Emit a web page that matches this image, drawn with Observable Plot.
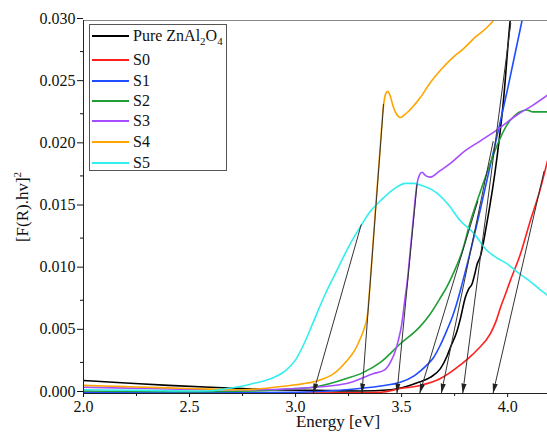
<!DOCTYPE html>
<html>
<head>
<meta charset="utf-8">
<script src="https://cdn.jsdelivr.net/npm/d3@7"></script>
<script src="https://cdn.jsdelivr.net/npm/@observablehq/plot@0.6"></script>
<style>
  html, body { margin: 0; padding: 0; background: #fff; }
  #wrap { position: relative; width: 547px; height: 432px; overflow: hidden; font-family: "Liberation Serif", "DejaVu Serif", serif; color: #111; }
  #legend { position: absolute; left: 89px; top: 24px; width: 138px; height: 147px; border: 1px solid #555; background: #fff; box-sizing: border-box; }
  .row { position: absolute; left: 0; height: 20px; display: flex; align-items: center; font-size: 16px; white-space: nowrap; }
  .sw { width: 37px; height: 2px; margin-left: 2px; margin-right: 4px; }
  .row sub { font-size: 11px; vertical-align: -4px; line-height: 0; }
  #ylab { position: absolute; left: 23px; top: 207px; transform: translate(-50%, -50%) rotate(-90deg); font-size: 17px; white-space: nowrap; }
  #ylab sup { font-size: 11px; vertical-align: 7px; line-height: 0; }
  #xlab { position: absolute; left: 338px; top: 413px; transform: translateX(-50%); font-size: 17px; line-height: 17px; white-space: nowrap; }
</style>
</head>
<body>
<div id="wrap"></div>
<script>
// ---- data ----
const seriesNames = ["Pure ZnAl2O4", "S0", "S1", "S2", "S3", "S4", "S5"];
const seriesColors = ["#000000", "#ff1f1f", "#1f4dff", "#1f9e35", "#a64dff", "#ffa500", "#33eeee"];

const pureE = [2.0, 2.2, 2.4, 2.6, 2.75, 2.9, 3.1, 3.3, 3.45, 3.53, 3.58, 3.635, 3.683, 3.714, 3.73, 3.761, 3.777, 3.80, 3.816, 3.832, 3.845, 3.856, 3.871, 3.90, 3.95, 3.98, 4.012, 4.03];
const pureV = [0.00105, 0.00085, 0.00065, 0.0005, 0.0004, 0.0003, 0.00025, 0.0002, 0.0003, 0.0006, 0.0009, 0.0013, 0.0020, 0.0030, 0.0037, 0.0050, 0.0060, 0.0077, 0.0084, 0.0088, 0.0096, 0.0104, 0.0110, 0.0135, 0.0190, 0.0235, 0.0300, 0.0325];

const s0E = [2.0, 2.4, 2.8, 3.2, 3.4, 3.494, 3.588, 3.683, 3.73, 3.777, 3.82, 3.856, 3.918, 3.945, 3.966, 3.99, 4.013, 4.06, 4.107, 4.15, 4.188];
const s0V = [0.0001, 0.00005, 0.00003, 0.00005, 0.0001, 0.0004, 0.00065, 0.0012, 0.0017, 0.0023, 0.0029, 0.0035, 0.0048, 0.0058, 0.0069, 0.0080, 0.0091, 0.0112, 0.0139, 0.0162, 0.0187];

const s1E = [2.0, 2.5, 3.0, 3.24, 3.40, 3.494, 3.557, 3.588, 3.62, 3.651, 3.68, 3.714, 3.74, 3.761, 3.785, 3.808, 3.863, 3.903, 3.95, 4.0, 4.068, 4.09];
const s1V = [0.0001, 0.00005, 0.0001, 0.0003, 0.0006, 0.0009, 0.0014, 0.0018, 0.0023, 0.0029, 0.0038, 0.0051, 0.0062, 0.0073, 0.0088, 0.0103, 0.0142, 0.0172, 0.0207, 0.0245, 0.0300, 0.0317];

const s2E = [2.0, 2.5, 2.8, 3.0, 3.085, 3.24, 3.32, 3.40, 3.494, 3.588, 3.635, 3.683, 3.714, 3.745, 3.785, 3.824, 3.887, 3.95, 3.997, 4.03, 4.052, 4.09, 4.12, 4.188];
const s2V = [0.0002, 0.00015, 0.0002, 0.0004, 0.0005, 0.0012, 0.0017, 0.0025, 0.0040, 0.0054, 0.0064, 0.0077, 0.0086, 0.0097, 0.0114, 0.0138, 0.0170, 0.01995, 0.0216, 0.0223, 0.0226, 0.0228, 0.02265, 0.02265];

const s3E = [2.0, 2.3, 2.6, 2.8, 3.0, 3.24, 3.368, 3.42, 3.45, 3.47, 3.485, 3.50, 3.515, 3.528, 3.541, 3.555, 3.573, 3.585, 3.596, 3.615, 3.635, 3.68, 3.73, 3.79, 3.87, 3.95, 4.044, 4.12, 4.188];
const s3V = [0.0005, 0.0004, 0.0003, 0.0003, 0.0004, 0.0008, 0.0016, 0.0019, 0.0026, 0.0034, 0.0043, 0.0055, 0.0075, 0.0092, 0.0115, 0.0140, 0.0169, 0.0176, 0.0178, 0.0175, 0.0174, 0.0179, 0.0185, 0.0194, 0.0203, 0.0212, 0.0224, 0.0232, 0.0240];

const s4E = [2.0, 2.2, 2.4, 2.6, 2.75, 2.9, 3.0, 3.1, 3.18, 3.24, 3.28, 3.305, 3.325, 3.338, 3.35, 3.363, 3.38, 3.40, 3.415, 3.425, 3.434, 3.445, 3.46, 3.475, 3.494, 3.52, 3.55, 3.588, 3.635, 3.683, 3.74, 3.79, 3.85, 3.90, 3.934, 3.96];
const s4V = [0.00065, 0.00055, 0.00045, 0.00035, 0.0003, 0.0005, 0.0007, 0.0010, 0.0016, 0.0026, 0.0035, 0.0044, 0.0053, 0.0062, 0.0085, 0.0115, 0.0155, 0.0200, 0.0232, 0.0241, 0.0243, 0.0240, 0.0231, 0.0225, 0.0222, 0.0225, 0.0230, 0.0238, 0.0250, 0.0260, 0.0270, 0.0277, 0.0287, 0.0294, 0.0300, 0.0305];

const s5E = [2.0, 2.3, 2.5, 2.6, 2.68, 2.75, 2.8, 2.85, 2.9, 2.95, 3.0, 3.04, 3.085, 3.14, 3.195, 3.25, 3.305, 3.35, 3.40, 3.46, 3.52, 3.56, 3.60, 3.668, 3.72, 3.777, 3.84, 3.903, 3.95, 4.0, 4.05, 4.1, 4.15, 4.188];
const s5V = [0.0003, 0.00025, 0.0002, 0.00022, 0.0004, 0.0006, 0.0008, 0.0010, 0.0013, 0.0018, 0.0027, 0.0040, 0.0058, 0.0080, 0.0099, 0.0118, 0.0134, 0.0146, 0.0155, 0.0164, 0.0169, 0.0169, 0.0167, 0.0161, 0.0152, 0.0139, 0.0129, 0.0115, 0.0109, 0.0104, 0.0097, 0.0091, 0.0084, 0.0079];

// tangent (band-gap) lines: start point on the curve, end on the energy axis
const tanStartE = [3.31, 3.415, 3.573, 3.86, 3.932, 4.015, 4.172];
const tanStartV = [0.0136, 0.0233, 0.0169, 0.0155, 0.0203, 0.0298, 0.0179];
const tanEndE   = [3.083, 3.313, 3.478, 3.585, 3.687, 3.788, 3.931];

// axis ticks
const xMajor = [2.0, 2.5, 3.0, 3.5, 4.0];
const xMinor = [2.25, 2.75, 3.25, 3.75];
const yMajor = [0, 0.005, 0.010, 0.015, 0.020, 0.025, 0.030];
const yMinor = [0.0025, 0.0075, 0.0125, 0.0175, 0.0225, 0.0275];

// ---- build ----
const allE = [pureE, s0E, s1E, s2E, s3E, s4E, s5E];
const allV = [pureV, s0V, s1V, s2V, s3V, s4V, s5V];
const lineMarks = allE.map((es, i) =>
  Plot.line(es.map((e, j) => ({E: e, V: allV[i][j]})), {
    x: "E", y: "V", stroke: seriesColors[i], strokeWidth: 1.6, curve: "monotone-x", clip: true
  })
);
const tangents = tanStartE.map((e, i) => ({x1: e, y1: tanStartV[i], x2: tanEndE[i], y2: 0}));

const serif = "'Liberation Serif', 'Times New Roman', serif";
const chart = Plot.plot({
  width: 547,
  height: 432,
  marginLeft: 83,
  marginRight: 0,
  marginTop: 20,
  marginBottom: 39,
  style: {fontFamily: serif, fontSize: "16px", color: "#111", background: "white", overflow: "visible"},
  x: {domain: [2, 4.188]},
  y: {domain: [0, 0.03]},
  marks: [
    Plot.axisY({ticks: yMajor, tickSize: 6, tickPadding: 2, tickFormat: d3.format(".3f"), label: null, dy: -2, fontSize: 16}),
    Plot.axisY({ticks: yMinor, tickSize: 3, tickFormat: () => "", label: null}),
    Plot.axisX({ticks: xMajor, tickSize: 4, tickPadding: 3, tickFormat: d3.format(".1f"), label: null, fontSize: 16}),
    Plot.axisX({ticks: xMinor, tickSize: 3, tickFormat: () => "", label: null}),
    ...lineMarks,
    Plot.link(tangents, {x1: "x1", y1: "y1", x2: "x2", y2: "y2", stroke: "#333", strokeWidth: 1, markerEnd: "arrow"}),
    Plot.ruleY([0.03], {stroke: "#888", strokeWidth: 1}),
    Plot.ruleX([2], {stroke: "#222", strokeWidth: 1}),
    Plot.ruleY([0], {stroke: "#222", strokeWidth: 1})
  ]
});

// serif tick labels, as in the original
chart.setAttribute("font-family", serif);
chart.style.setProperty("font-family", serif, "important");
chart.querySelectorAll("g, text").forEach(el => {
  el.setAttribute("font-family", serif);
  el.style.setProperty("font-family", serif, "important");
});
chart.querySelectorAll("text").forEach(t => {
  t.setAttribute("font-size", "16");
  t.style.setProperty("font-size", "16px", "important");
  t.setAttribute("fill", "#111");
});

// filled arrowheads like the original
chart.querySelectorAll("marker").forEach(m => {
  m.setAttribute("viewBox", "-10 -5 10 10");
  m.setAttribute("markerWidth", "10");
  m.setAttribute("markerHeight", "10");
  m.setAttribute("fill", "#222");
  m.setAttribute("stroke", "none");
  const p = m.querySelector("path");
  if (p) p.setAttribute("d", "M-10,-2.6L0,0L-10,2.6Z");
});

const wrap = document.getElementById("wrap");
wrap.appendChild(chart);

// legend
const legend = document.createElement("div");
legend.id = "legend";
const rowCenters = [11, 35, 56, 76, 96, 117, 138];
seriesNames.forEach((name, i) => {
  const row = document.createElement("div");
  row.className = "row";
  row.style.top = (rowCenters[i] - 10) + "px";
  const sw = document.createElement("div");
  sw.className = "sw";
  sw.style.background = seriesColors[i];
  const label = document.createElement("span");
  if (i === 0) label.innerHTML = "Pure ZnAl<sub>2</sub>O<sub>4</sub>";
  else label.textContent = name;
  row.appendChild(sw);
  row.appendChild(label);
  legend.appendChild(row);
});
wrap.appendChild(legend);

const ylab = document.createElement("div");
ylab.id = "ylab";
ylab.innerHTML = "[F(R).hv]<sup>2</sup>";
wrap.appendChild(ylab);

const xlab = document.createElement("div");
xlab.id = "xlab";
xlab.textContent = "Energy [eV]";
wrap.appendChild(xlab);
</script>
</body>
</html>
